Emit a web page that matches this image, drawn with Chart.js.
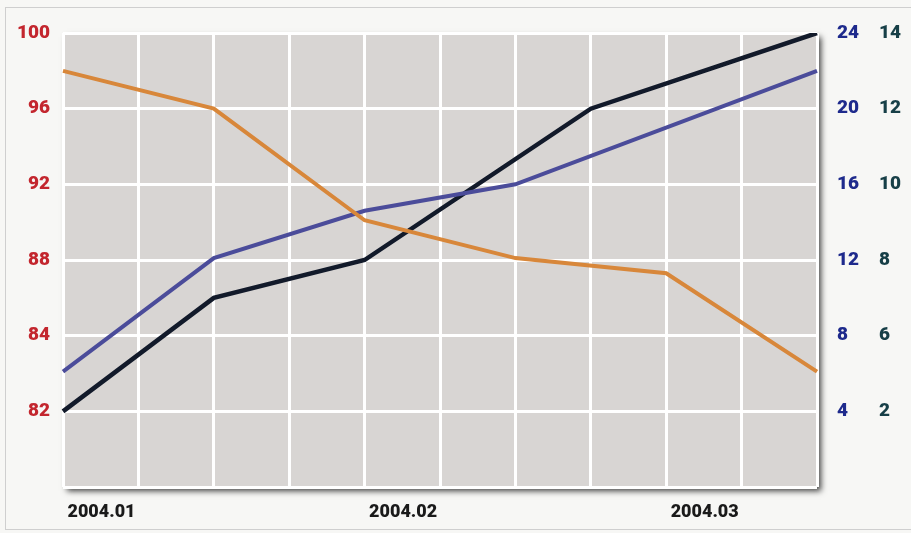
<!DOCTYPE html>
<html>
<head>
<meta charset="utf-8">
<title>2004.01 - 2004.03</title>
<script src="https://cdn.jsdelivr.net/npm/chart.js@4.4.1/dist/chart.umd.min.js"></script>
<style>
    html, body { margin: 0; padding: 0; background: #f7f7f5; }
    #wrap { position: relative; width: 911px; height: 533px; }
    #frame { position: absolute; left: 5px; top: 7px; width: 920px; height: 521px; border: 1px solid #cfcfcf; }
    #chart { position: absolute; left: 0; top: 0; }
</style>
</head>
<body>
<div id="wrap">
    <div id="frame"></div>
    <canvas id="chart" width="911" height="533"></canvas>
</div>
<script>
// x categories (labels only every 4 steps)
const xLabels = ['2004.01', '', '', '', '2004.02', '', '', '', '2004.03', '', ''];

// series values, null = no break point there
const orangeValues = [98.0, null, 96.0, null, 90.1, null, 88.1, null, 87.3, null, 82.1];
const blueValues = [6.1, null, 12.1, null, 14.6, null, 16.0, null, null, null, 22.0];
const blackValues = [4.0, null, 7.0, null, 8.0, null, null, 12.0, null, null, 14.0];

// tick labels, from top to bottom (as printed)
const leftTicks = ['100', '96', '92', '88', '84', '82', ''];
const blueTicks = ['24', '20', '16', '12', '8', '4', ''];
const tealTicks = ['14', '12', '10', '8', '6', '2', ''];

document.addEventListener('DOMContentLoaded', function () {

    const fontFamily = "Roboto, 'Liberation Sans', Arial, sans-serif";
    const tickFont = { family: fontFamily, size: 19, weight: '900' };
    const xFont = { family: fontFamily, size: 18, weight: '900' };

    // gray plot background with a drop shadow
    const plotBackground = {
        id: 'plotBackground',
        beforeDraw(chart) {
            const { ctx, chartArea } = chart;
            ctx.save();
            ctx.shadowColor = 'rgba(0, 0, 0, 0.75)';
            ctx.shadowBlur = 6;
            ctx.shadowOffsetX = 4;
            ctx.shadowOffsetY = 4;
            ctx.fillStyle = '#d8d5d3';
            ctx.fillRect(chartArea.left, chartArea.top, chartArea.right - chartArea.left, chartArea.bottom - chartArea.top);
            ctx.restore();
        }
    };

    function fromTop(list) {
        return function (value, index, ticks) {
            return list[ticks.length - 1 - index];
        };
    }

    const lineStyle = { tension: 0, pointRadius: 0, borderWidth: 4, spanGaps: true, fill: false };

    new Chart(document.getElementById('chart').getContext('2d'), {
        type: 'line',
        data: {
            labels: xLabels,
            datasets: [
                Object.assign({ data: orangeValues, borderColor: '#d8873a', yAxisID: 'y' }, lineStyle),
                Object.assign({ data: blueValues, borderColor: '#4b4c9a', yAxisID: 'yBlue' }, lineStyle),
                Object.assign({ data: blackValues, borderColor: '#121a2a', yAxisID: 'yTeal' }, lineStyle, { borderWidth: 4.5 })
            ]
        },
        options: {
            responsive: false,
            animation: false,
            layout: { padding: { top: 33, left: 0, right: 0, bottom: 0 } },
            plugins: { legend: { display: false }, tooltip: { enabled: false } },
            scales: {
                x: {
                    grid: { color: '#ffffff', lineWidth: 3, drawTicks: false },
                    border: { display: false },
                    ticks: {
                        autoSkip: false, maxRotation: 0, align: 'start', padding: 15,
                        color: '#1a1a1a', font: xFont,
                        callback: function (value, index) { return xLabels[index] ? ' ' + xLabels[index] : ''; }
                    },
                    afterFit: function (scale) { scale.height = 46; }
                },
                y: {
                    position: 'left', min: 76, max: 100,
                    grid: { color: '#ffffff', lineWidth: 3, drawTicks: false },
                    border: { display: false },
                    ticks: { stepSize: 4, padding: 13, color: '#c3262e', font: tickFont, callback: fromTop(leftTicks) },
                    afterFit: function (scale) { scale.width = 63; }
                },
                yBlue: {
                    position: 'right', min: 0, max: 24,
                    grid: { display: false, drawTicks: false },
                    border: { display: false },
                    ticks: { stepSize: 4, padding: 20, color: '#1e2a8c', font: tickFont, callback: fromTop(blueTicks) },
                    afterFit: function (scale) { scale.width = 44; }
                },
                yTeal: {
                    position: 'right', min: 2, max: 14,
                    grid: { display: false, drawTicks: false },
                    border: { display: false },
                    ticks: { stepSize: 2, padding: 18, color: '#173f47', font: tickFont, callback: fromTop(tealTicks) },
                    afterFit: function (scale) { scale.width = 50; }
                }
            }
        },
        plugins: [plotBackground]
    });

});
</script>
</body>
</html>
